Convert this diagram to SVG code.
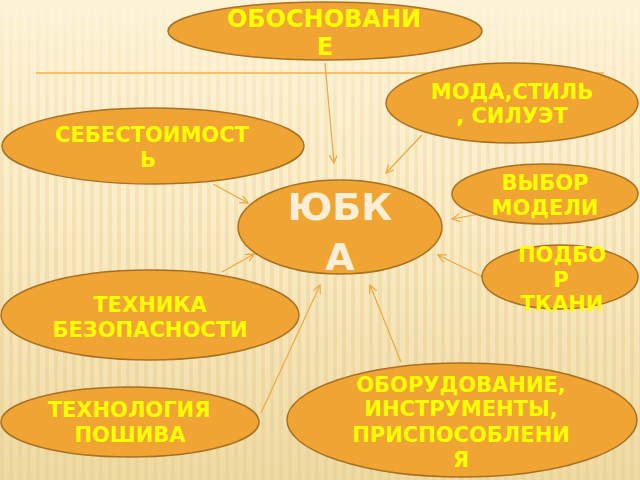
<svg xmlns="http://www.w3.org/2000/svg" width="640" height="480" viewBox="0 0 640 480">
<defs>
<linearGradient id="bg" x1="0" y1="0" x2="0" y2="1">
<stop offset="0" stop-color="#FEF3D7"/>
<stop offset="0.45" stop-color="#FCEDC8"/>
<stop offset="1" stop-color="#EEDAA2"/>
</linearGradient>
<pattern id="stripes" width="9" height="10" patternUnits="userSpaceOnUse">
<rect x="0" y="0" width="4" height="10" fill="#E9D19A"/>
</pattern>
<linearGradient id="fade" x1="0" y1="0" x2="0" y2="1">
<stop offset="0" stop-color="#fff" stop-opacity="0"/>
<stop offset="0.2" stop-color="#fff" stop-opacity="0.25"/>
<stop offset="1" stop-color="#fff" stop-opacity="0.7"/>
</linearGradient>
<mask id="m"><rect width="640" height="480" fill="url(#fade)"/></mask>
<marker id="arr" markerWidth="10" markerHeight="10" refX="8" refY="4" orient="auto" markerUnits="userSpaceOnUse">
<path d="M0,0 L8,4 L0,8" fill="none" stroke="#F0A840" stroke-width="1.3"/>
</marker>
<style>
.node{fill:#EFA433;stroke:#A87020;stroke-width:1.5}
.t{font-family:"DejaVu Sans","Verdana",sans-serif;font-weight:bold;font-size:21px;fill:#FFFF00;text-anchor:middle}
.big{font-family:"DejaVu Sans","Verdana",sans-serif;font-weight:bold;font-size:38px;fill:#FCEFD6;text-anchor:middle}
.c{stroke:#F0A840;stroke-width:1.2;fill:none;marker-end:url(#arr)}
</style>
</defs>
<rect width="640" height="480" fill="url(#bg)"/>
<rect width="640" height="480" fill="url(#stripes)" mask="url(#m)"/>
<line x1="36" y1="73" x2="604" y2="73" stroke="#F0B048" stroke-width="1.5"/>
<g id="connectors">
<line class="c" x1="325" y1="63" x2="334" y2="163"/>
<line class="c" x1="422" y1="135" x2="386" y2="173"/>
<line class="c" x1="213" y1="184" x2="248" y2="203"/>
<line class="c" x1="480" y1="214" x2="452" y2="219"/>
<line class="c" x1="483" y1="277" x2="438" y2="255"/>
<line class="c" x1="222" y1="272" x2="254" y2="254"/>
<line class="c" x1="261" y1="413" x2="320" y2="285"/>
<line class="c" x1="401" y1="362" x2="370" y2="285"/>
</g>
<g id="n-obosnovanie">
<ellipse class="node" cx="325" cy="31" rx="157" ry="29"/>
<text class="t" style="font-size:24px" x="324" y="27">ОБОСНОВАНИ</text>
<text class="t" style="font-size:24px" x="325" y="55">Е</text>
</g>
<g id="n-moda">
<ellipse class="node" cx="512" cy="103" rx="126" ry="40"/>
<text class="t" x="512" y="99">МОДА,СТИЛЬ</text>
<text class="t" x="512" y="123">, СИЛУЭТ</text>
</g>
<g id="n-sebestoimost">
<ellipse class="node" cx="153" cy="146" rx="151" ry="38"/>
<text class="t" x="152" y="142">СЕБЕСТОИМОСТ</text>
<text class="t" x="148" y="167">Ь</text>
</g>
<g id="n-yubka">
<ellipse class="node" cx="340" cy="227" rx="102" ry="47"/>
<text class="big" x="340" y="220">ЮБК</text>
<text class="big" x="340" y="270">А</text>
</g>
<g id="n-vybor">
<ellipse class="node" cx="545" cy="194" rx="93" ry="30"/>
<text class="t" x="545" y="190">ВЫБОР</text>
<text class="t" x="545" y="215">МОДЕЛИ</text>
</g>
<g id="n-podbor">
<ellipse class="node" cx="560" cy="277" rx="78" ry="32"/>
<text class="t" x="562" y="262">ПОДБО</text>
<text class="t" x="561" y="287">Р</text>
<text class="t" x="562" y="311">ТКАНИ</text>
</g>
<g id="n-tehnika">
<ellipse class="node" cx="150" cy="315" rx="149" ry="45"/>
<text class="t" x="150" y="312">ТЕХНИКА</text>
<text class="t" x="150" y="337">БЕЗОПАСНОСТИ</text>
</g>
<g id="n-tehnologiya">
<ellipse class="node" cx="130" cy="422" rx="129" ry="35"/>
<text class="t" x="129" y="417">ТЕХНОЛОГИЯ</text>
<text class="t" x="130" y="442">ПОШИВА</text>
</g>
<g id="n-oborudovanie">
<ellipse class="node" cx="462" cy="420" rx="175" ry="57"/>
<text class="t" x="461" y="392">ОБОРУДОВАНИЕ,</text>
<text class="t" x="461" y="416">ИНСТРУМЕНТЫ,</text>
<text class="t" x="461" y="442">ПРИСПОСОБЛЕНИ</text>
<text class="t" x="461" y="467">Я</text>
</g>
</svg>
